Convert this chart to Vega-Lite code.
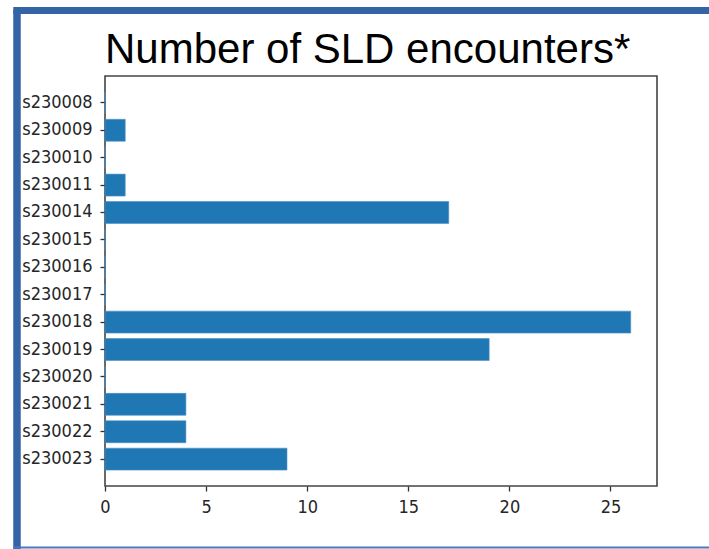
{
  "$schema": "https://vega.github.io/schema/vega-lite/v6.json",
  "width": 552,
  "height": 410,
  "autosize": {"type": "none"},
  "padding": {"left": 105, "top": 76, "right": 52, "bottom": 63},
  "background": "white",
  "title": {
    "text": "Number of SLD encounters*",
    "anchor": "start",
    "frame": "group",
    "font": "Liberation Sans",
    "fontSize": 42,
    "fontWeight": "normal",
    "color": "#000000",
    "offset": -65
  },
  "config": {
    "view": {"stroke": "#444444", "strokeWidth": 1.6},
    "axis": {
      "labelFont": "DejaVu Sans Condensed, DejaVu Sans",
      "labelFontSize": 18,
      "labelColor": "#262626",
      "tickColor": "#333333",
      "tickWidth": 1.3,
      "tickSize": 5,
      "domain": false,
      "grid": false,
      "title": null
    }
  },
  "layer": [
    {
      "data": {
        "values": [
          {"sample": "s230008", "encounters": 0},
          {"sample": "s230009", "encounters": 1},
          {"sample": "s230010", "encounters": 0},
          {"sample": "s230011", "encounters": 1},
          {"sample": "s230014", "encounters": 17},
          {"sample": "s230015", "encounters": 0},
          {"sample": "s230016", "encounters": 0},
          {"sample": "s230017", "encounters": 0},
          {"sample": "s230018", "encounters": 26},
          {"sample": "s230019", "encounters": 19},
          {"sample": "s230020", "encounters": 0},
          {"sample": "s230021", "encounters": 4},
          {"sample": "s230022", "encounters": 4},
          {"sample": "s230023", "encounters": 9}
        ]
      },
      "mark": {"type": "bar", "color": "#1f77b4", "stroke": "#4a90c8", "strokeWidth": 0.6},
      "encoding": {
        "y": {
          "field": "sample",
          "type": "nominal",
          "sort": null,
          "scale": {"paddingInner": 0.2, "paddingOuter": 0.58},
          "axis": {"labelPadding": 8}
        },
        "x": {
          "field": "encounters",
          "type": "quantitative",
          "scale": {"domain": [0, 27.3], "nice": false},
          "axis": {"values": [0, 5, 10, 15, 20, 25], "labelPadding": 7, "labelFlush": false}
        }
      }
    },
    {
      "data": {"values": [{}]},
      "mark": {"type": "rule", "color": "#3564a6", "strokeWidth": 7.5, "clip": false},
      "encoding": {
        "x": {"value": -88},
        "y": {"value": -65.5},
        "y2": {"value": 473}
      }
    },
    {
      "data": {"values": [{}]},
      "mark": {"type": "rule", "color": "#3564a6", "strokeWidth": 7, "clip": false},
      "encoding": {
        "x": {"value": -91.75},
        "x2": {"value": 604},
        "y": {"value": -65.5}
      }
    },
    {
      "data": {"values": [{}]},
      "mark": {"type": "rule", "color": "#4a78bd", "strokeWidth": 2, "clip": false},
      "encoding": {
        "x": {"value": -91.75},
        "x2": {"value": 604},
        "y": {"value": 471.5}
      }
    }
  ]
}
